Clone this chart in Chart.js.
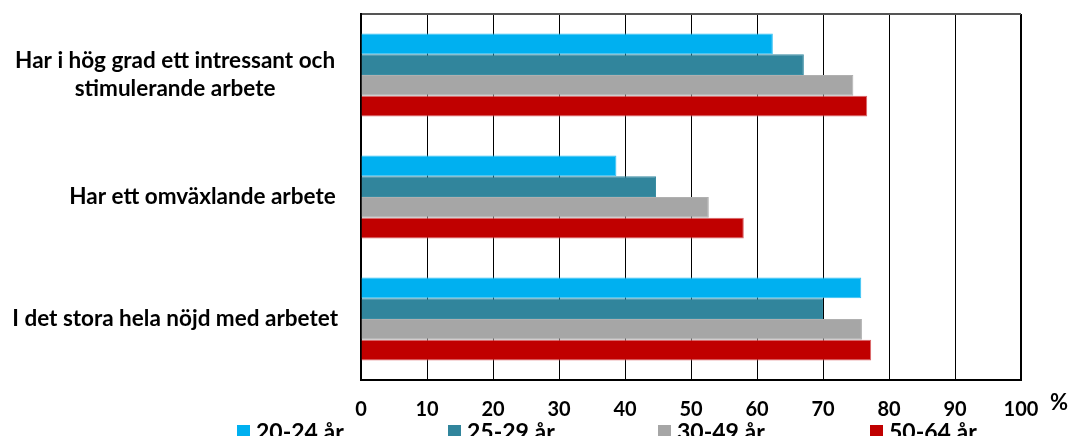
<!DOCTYPE html>
<html>
<head>
<meta charset="utf-8">
<script src="https://cdn.jsdelivr.net/npm/chart.js@4.4.1/dist/chart.umd.min.js"></script>
<style>
  html, body { margin: 0; padding: 0; background: #fff; }
  #wrap { position: relative; width: 1070px; height: 436px; overflow: hidden; }
  #legend { position: absolute; top: 417px; left: 0; width: 1070px; height: 30px; font-family: Lato, sans-serif; font-weight: bold; font-size: 23px; color: #000; }
  .item { position: absolute; top: 0; display: flex; align-items: center; white-space: nowrap; }
  .box { width: 13px; height: 13px; margin-right: 6px; }
</style>
</head>
<body>
<div id="wrap">
  <canvas id="c" width="1070" height="436"></canvas>
  <div id="legend"></div>
</div>
<script>
const categories = [
  ["Har i hög grad ett intressant och", "stimulerande arbete"],
  "\u00A0\u00A0\u00A0\u00A0\u00A0\u00A0\u00A0\u00A0\u00A0\u00A0Har ett omväxlande arbete",
  "I det stora hela nöjd med arbetet"
];
const seriesLabels = ["20-24 år", "25-29 år", "30-49 år", "50-64 år"];
const seriesColors = ["#00B0F0", "#31859C", "#A6A6A6", "#C00000"];
const seriesBorders = ["#33C0F3", "#3A8DA3", "#B0B0B0", "#D9666A"];
const values2024 = [62.4, 38.7, 75.8];
const values2529 = [67.1, 44.7, 70.0];
const values3049 = [74.6, 52.7, 75.9];
const values5064 = [76.7, 58.0, 77.3];
const xTicks = [0, 10, 20, 30, 40, 50, 60, 70, 80, 90, 100];

const seriesValues = [values2024, values2529, values3049, values5064];
const FONT = "Lato, sans-serif";

const percentPlugin = {
  id: 'percent',
  afterDraw(chart) {
    const ctx = chart.ctx;
    const xs = chart.scales.x;
    ctx.save();
    ctx.font = "bold 22px " + FONT;
    ctx.fillStyle = "#000";
    ctx.textAlign = "left";
    ctx.textBaseline = "middle";
    ctx.fillText("%", xs.right + 29, 403);
    ctx.restore();
  }
};

const chart = new Chart(document.getElementById('c'), {
  type: 'bar',
  data: {
    labels: categories,
    datasets: seriesValues.map((v, i) => ({
      label: seriesLabels[i],
      data: v,
      backgroundColor: seriesColors[i],
      borderColor: seriesBorders[i],
      borderWidth: 1,
      borderSkipped: 'start',
      barPercentage: 1.0,
      categoryPercentage: 0.68
    }))
  },
  options: {
    indexAxis: 'y',
    responsive: false,
    animation: false,
    devicePixelRatio: 1,
    layout: { padding: { top: 14, right: 49, left: 0, bottom: 0 } },
    plugins: {
      legend: { display: false },
      tooltip: { enabled: false }
    },
    scales: {
      x: {
        min: 0, max: 100,
        afterBuildTicks(scale) { scale.ticks = xTicks.map(v => ({ value: v })); },
        afterFit(scale) { scale.height = 56; },
        grid: {
          color: "#000",
          lineWidth: (ctx) => (ctx.index === xTicks.length - 1 ? 2 : 1),
          drawTicks: false
        },
        border: { color: "#000", width: 2 },
        ticks: { color: "#000", font: { family: FONT, weight: 'bold', size: 20 }, padding: 18, maxRotation: 0 }
      },
      y: {
        afterFit(scale) { scale.width = 361; scale.paddingTop = 0; scale.paddingBottom = 0; },
        grid: {
          drawTicks: false,
          color: (ctx) => (ctx.index === 0 ? "#555" : "rgba(0,0,0,0)"),
          lineWidth: 2
        },
        border: { color: "#000", width: 2 },
        ticks: { color: "#000", crossAlign: 'center', padding: 23, font: { family: FONT, weight: 'bold', size: 22.5, lineHeight: 1.25 } }
      }
    }
  },
  plugins: [percentPlugin]
});

// Legend built from the series arrays
const legend = document.getElementById('legend');
const legendX = [237, 448, 658, 870];
seriesLabels.forEach((lab, i) => {
  const it = document.createElement('div');
  it.className = 'item';
  it.style.left = legendX[i] + 'px';
  const b = document.createElement('div');
  b.className = 'box';
  b.style.background = seriesColors[i];
  const t = document.createElement('span');
  t.textContent = lab;
  it.appendChild(b); it.appendChild(t);
  legend.appendChild(it);
});
</script>
</body>
</html>
